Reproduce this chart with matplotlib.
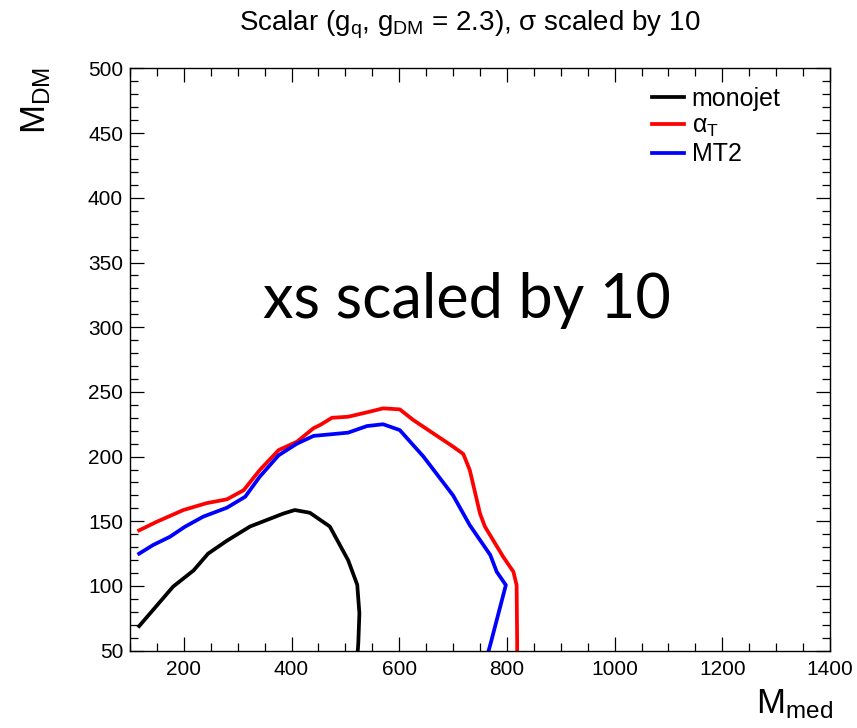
import numpy as np
import matplotlib
matplotlib.use("Agg")
import matplotlib.pyplot as plt
from matplotlib.ticker import MultipleLocator

plt.rcParams['font.family'] = ['Liberation Sans', 'DejaVu Sans']
plt.rcParams['mathtext.fontset'] = 'custom'
plt.rcParams['mathtext.rm'] = 'Liberation Sans'
plt.rcParams['mathtext.it'] = 'Liberation Sans'

# limit contours (M_med, M_DM)
mono_x = [117, 180, 218, 245, 280, 323, 354, 385, 406, 434, 471, 505, 522, 526, 524, 523]
mono_y = [69, 99.5, 112, 125, 135, 146, 151, 156, 158.7, 156.6, 146, 120, 101, 79, 56, 50]

alphat_x = [117, 150, 199, 242, 280, 311, 341, 376, 410, 441, 453, 475, 505, 540, 570,
            601, 626, 663, 700, 719, 731, 750, 759, 793, 812, 818, 819, 819]
alphat_y = [143, 149.7, 158.7, 164, 167, 174, 189.6, 205, 211.5, 222, 224.4, 230, 230.8, 234.2, 237.3,
            236.5, 228.3, 218, 207.7, 202, 189.6, 156, 146, 122.6, 111, 100.7, 56, 50]

mt2_x = [117, 143, 174, 202, 236, 280, 314, 341, 376, 410, 441, 505, 540, 570, 601,
         645, 700, 731, 769, 781, 798, 770, 766]
mt2_y = [125, 131.7, 138, 145.8, 153.6, 160.5, 169, 184.5, 201, 210, 216, 218.5, 223.6, 225, 220.5,
         200, 170, 147, 124, 111, 100.7, 56, 50]

fig = plt.figure(figsize=(8.57, 7.28), dpi=100)
ax = fig.add_axes([0.1517, 0.1062, 0.8168, 0.7998])

ax.plot(mono_x, mono_y, color='black', lw=2.7, label='monojet')
ax.plot(alphat_x, alphat_y, color='#ff0000', lw=2.7, label=r'α$_\mathregular{T}$')
ax.plot(mt2_x, mt2_y, color='#0000ff', lw=2.7, label='MT2')

ax.set_xlim(100, 1400)
ax.set_ylim(50, 500)
ax.xaxis.set_major_locator(MultipleLocator(200))
ax.xaxis.set_minor_locator(MultipleLocator(50))
ax.yaxis.set_major_locator(MultipleLocator(50))
ax.yaxis.set_minor_locator(MultipleLocator(10))
ax.tick_params(which='both', direction='in', top=True, right=True, labelsize=15, width=0.9)
ax.tick_params(which='major', length=10)
ax.tick_params(which='minor', length=5.5)
ax.tick_params(axis='x', pad=7)
ax.tick_params(axis='y', pad=5)
for s in ax.spines.values():
    s.set_linewidth(1.0)

ax.text(725, 321, 'xs scaled by 10', fontsize=44, family=['Lato', 'DejaVu Sans'],
        ha='center', va='center')

leg = ax.legend(loc='upper left', bbox_to_anchor=(0.745, 0.968), fontsize=18, frameon=False,
                handlelength=1.3, handletextpad=0.3, labelspacing=0.12, borderpad=0,
                borderaxespad=0)

fig.text(470 / 857, 1 - 25 / 728, r'Scalar (g$_\mathregular{q}$, g$_\mathregular{DM}$ = 2.3), σ scaled by 10',
         fontsize=20, ha='center', va='center')
fig.text(36 / 857, 1 - 100 / 728, r'M$_\mathregular{DM}$', fontsize=25, rotation=90,
         ha='center', va='center')
fig.text(795 / 857, 1 - 704 / 728, r'M$_\mathregular{med}$', fontsize=25,
         ha='center', va='center')

fig.savefig('out.png', dpi=100)
